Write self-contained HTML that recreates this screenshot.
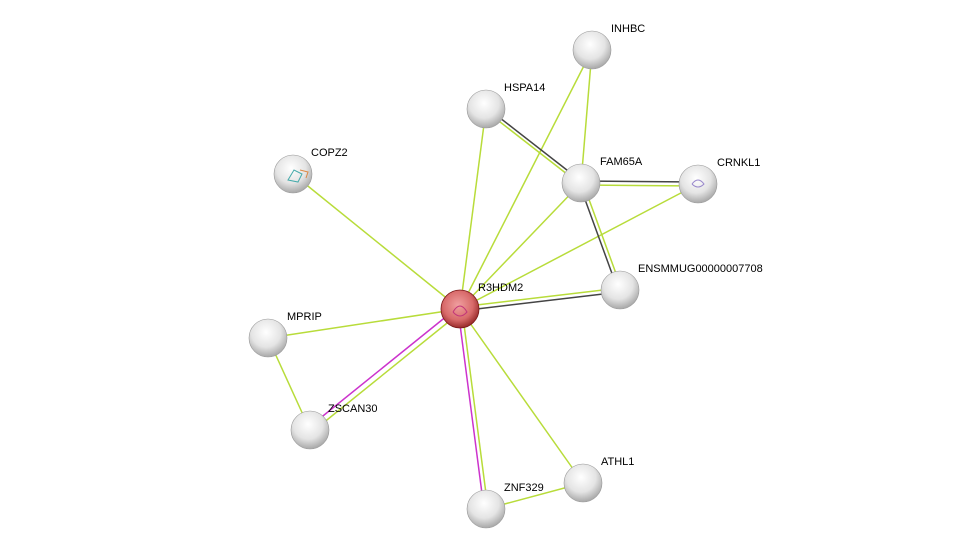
<!DOCTYPE html>
<html><head><meta charset="utf-8"><style>html,body{margin:0;padding:0;background:#fff;}svg{display:block}</style></head>
<body>
<svg width="975" height="554" viewBox="0 0 975 554" xmlns="http://www.w3.org/2000/svg" font-family="Liberation Sans, sans-serif" font-size="11">
<defs>
<radialGradient id="g" cx="0.45" cy="0.35" r="0.65">
<stop offset="0" stop-color="#ffffff"/><stop offset="0.6" stop-color="#e4e4e4"/><stop offset="1" stop-color="#a8a8a8"/>
</radialGradient>
<radialGradient id="r" cx="0.45" cy="0.4" r="0.65">
<stop offset="0" stop-color="#f0a0a0"/><stop offset="0.6" stop-color="#d86a6a"/><stop offset="1" stop-color="#8a1c1c"/>
</radialGradient>
<linearGradient id="hl" x1="0" y1="0" x2="0" y2="1"><stop offset="0" stop-color="#fff" stop-opacity="0.95"/><stop offset="1" stop-color="#fff" stop-opacity="0"/></linearGradient>
</defs>
<g stroke="#b8dc3a" stroke-width="1.5" fill="none">
<line x1="592" y1="50" x2="460" y2="309"/>
<line x1="592" y1="50" x2="581" y2="183"/>
<line x1="486" y1="109" x2="460" y2="309"/>
<line x1="581" y1="183" x2="460" y2="309"/>
<line x1="698" y1="184" x2="460" y2="309"/>
<line x1="293" y1="174" x2="460" y2="309"/>
<line x1="268" y1="338" x2="460" y2="309"/>
<line x1="268" y1="338" x2="310" y2="430"/>
<line x1="460" y1="309" x2="583" y2="483"/>
<line x1="583" y1="483" x2="486" y2="509"/>
<!-- double edges -->
<line x1="486" y1="107" x2="581" y2="181" stroke="#444"/>
<line x1="486" y1="111" x2="581" y2="185"/>
<line x1="581" y1="181" x2="698" y2="182" stroke="#444"/>
<line x1="581" y1="185" x2="698" y2="186"/>
<line x1="579" y1="183" x2="618" y2="290" stroke="#444"/>
<line x1="583" y1="183" x2="622" y2="290"/>
<line x1="460" y1="307" x2="620" y2="288"/>
<line x1="460" y1="311" x2="620" y2="292" stroke="#444"/>
<line x1="458" y1="307" x2="308" y2="428" stroke="#cc33cc"/>
<line x1="462" y1="311" x2="312" y2="432"/>
<line x1="458" y1="309" x2="484" y2="509" stroke="#cc33cc"/>
<line x1="462" y1="309" x2="488" y2="509"/>
</g>
<g>
<g id="n">
</g>
</g>
<g>
<circle cx="592" cy="50" r="19" fill="url(#g)" stroke="#999" stroke-width="0.6"/>
<circle cx="486" cy="109" r="19" fill="url(#g)" stroke="#999" stroke-width="0.6"/>
<circle cx="293" cy="174" r="19" fill="url(#g)" stroke="#999" stroke-width="0.6"/>
<circle cx="581" cy="183" r="19" fill="url(#g)" stroke="#999" stroke-width="0.6"/>
<circle cx="698" cy="184" r="19" fill="url(#g)" stroke="#999" stroke-width="0.6"/>
<circle cx="620" cy="290" r="19" fill="url(#g)" stroke="#999" stroke-width="0.6"/>
<circle cx="268" cy="338" r="19" fill="url(#g)" stroke="#999" stroke-width="0.6"/>
<circle cx="310" cy="430" r="19" fill="url(#g)" stroke="#999" stroke-width="0.6"/>
<circle cx="583" cy="483" r="19" fill="url(#g)" stroke="#999" stroke-width="0.6"/>
<circle cx="486" cy="509" r="19" fill="url(#g)" stroke="#999" stroke-width="0.6"/>
<circle cx="460" cy="309" r="19" fill="url(#r)" stroke="#7a1a1a" stroke-width="0.8"/>
<path d="M288 180 l6 -10 l8 4 l-4 8 z" fill="none" stroke="#4aa" stroke-width="1"/>
<path d="M300 170 l8 2 l-2 6" fill="none" stroke="#d84" stroke-width="1"/>
<path d="M692 184 q6 -8 12 0 q-6 6 -12 0" fill="none" stroke="#98c" stroke-width="1"/>
<path d="M453 312 q7 -12 14 0 q-7 8 -14 0" fill="none" stroke="#c2357a" stroke-width="1"/>
</g>
<g fill="#000">
<text x="611" y="32">INHBC</text>
<text x="504" y="91">HSPA14</text>
<text x="311" y="156">COPZ2</text>
<text x="600" y="165">FAM65A</text>
<text x="717" y="166">CRNKL1</text>
<text x="638" y="272">ENSMMUG00000007708</text>
<text x="478" y="291">R3HDM2</text>
<text x="287" y="320">MPRIP</text>
<text x="328" y="412">ZSCAN30</text>
<text x="601" y="465">ATHL1</text>
<text x="504" y="491">ZNF329</text>
</g>
</svg>
</body></html>
